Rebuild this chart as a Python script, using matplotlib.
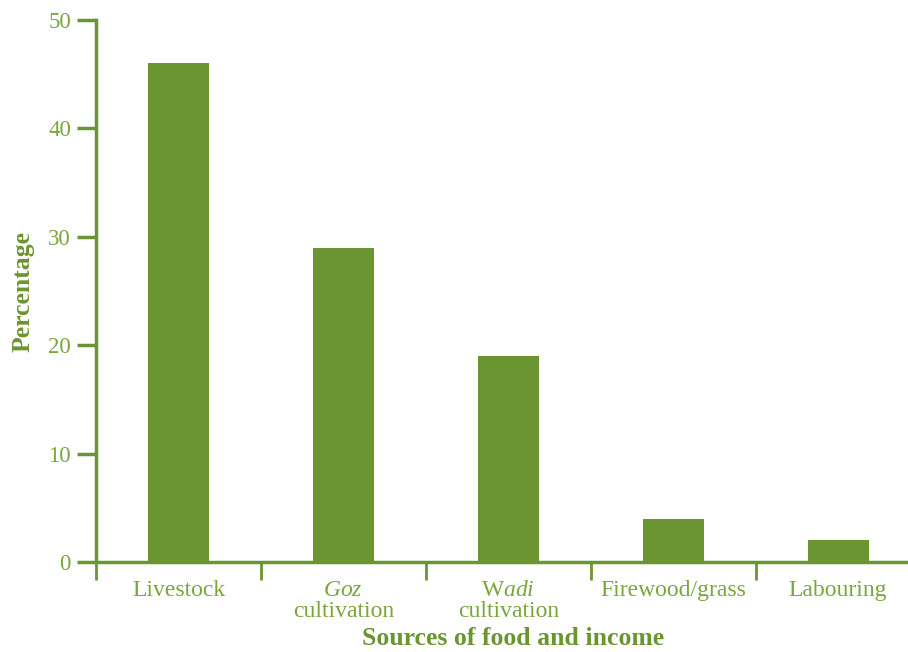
import matplotlib
matplotlib.use("Agg")
import matplotlib.pyplot as plt
import numpy as np

# data
categories = ["Livestock", "$\\mathit{Goz}$\ncultivation", "W$\\mathit{adi}$\ncultivation",
              "Firewood/grass", "Labouring"]
values = [46, 29, 19, 4, 2]
yticks = [0, 10, 20, 30, 40, 50]

green = "#6b9530"
light = "#7aa63c"

plt.rcParams["font.family"] = "Liberation Serif"
plt.rcParams["mathtext.fontset"] = "custom"
plt.rcParams["mathtext.rm"] = "Liberation Serif"
plt.rcParams["mathtext.it"] = "Liberation Serif:italic"

fig = plt.figure(figsize=(9.08, 6.52), dpi=100)
ax = fig.add_axes([96 / 908, 1 - 562 / 652, 1 - 96 / 908, (562 - 20) / 652])

x = np.arange(len(categories))
ax.bar(x, values, width=0.37, color=green, zorder=2)

ax.set_yticks(yticks)
ax.set_yticklabels([str(v) for v in yticks], fontsize=16.5, color=light)

# ticks sit between categories, labels sit under the bars
ax.set_xticks(np.arange(len(categories)) - 0.5)
ax.set_xticklabels([])
ax.set_xticks(x, minor=True)
ax.set_xticklabels(categories, minor=True, fontsize=17, color=light, linespacing=1.0,
                   va="top")
ax.set_ylim(0, 50)
ax.set_xlim(-0.5, -0.5 + 812 / 164.9)
ax.tick_params(axis="x", which="minor", length=0, pad=13)
ax.tick_params(axis="x", which="major", length=13, width=2, color=green, direction="out")
ax.tick_params(axis="y", length=14, width=2.5, color=green, pad=4)

for s in ["top", "right"]:
    ax.spines[s].set_visible(False)
for s in ["left", "bottom"]:
    ax.spines[s].set_color(green)
    ax.spines[s].set_linewidth(2.5)

ax.set_xlabel("Sources of food and income", fontsize=18.5, fontweight="bold", color=green)
ax.xaxis.set_label_coords((513 - 96) / 812, -0.12)
ax.set_ylabel("Percentage", fontsize=18.5, fontweight="bold", color=green, labelpad=10)

fig.savefig("out.png", dpi=100)
